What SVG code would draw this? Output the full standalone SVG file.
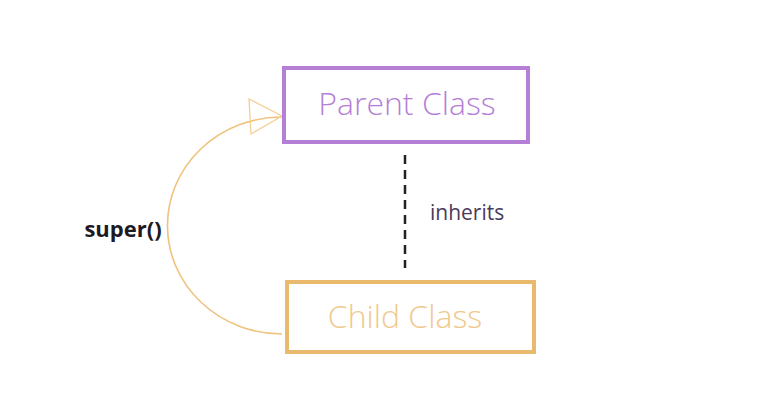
<svg xmlns="http://www.w3.org/2000/svg" width="780" height="401" viewBox="0 0 780 401">
<style>
.box{fill:#fff;stroke-width:4}
.t{font-family:"Open Sans","Noto Sans",sans-serif;text-anchor:middle}
</style>
<rect width="780" height="401" fill="#fff"/>
<g id="connectors">
<path d="M282 334 A114 108 0 0 1 282 117" fill="none" stroke="#efc27e" stroke-width="1.6"/>
<path d="M282 116 L249 99 L251 134 Z" fill="none" stroke="#f4cf96" stroke-width="1.3"/>
<line x1="405" y1="155" x2="405" y2="268" stroke="#222" stroke-width="2.5" stroke-dasharray="9,6"/>
<text x="430" y="220" font-family="'Open Sans','Noto Sans',sans-serif" font-size="21" fill="#4a3a5a">inherits</text>
<text x="123" y="237" class="t" font-size="22" font-weight="bold" fill="#1e1a24">super()</text>
</g>
<g id="parent">
<rect class="box" x="284" y="68" width="244" height="74" stroke="#b57fd6"/>
<text x="407" y="115" class="t" font-size="32" font-weight="300" fill="#b57fd6">Parent Class</text>
</g>
<g id="child">
<rect class="box" x="287" y="282" width="247" height="70" stroke="#e9b96e"/>
<text x="405" y="328" class="t" font-size="32" font-weight="300" fill="#f0c98e">Child Class</text>
</g>
</svg>
